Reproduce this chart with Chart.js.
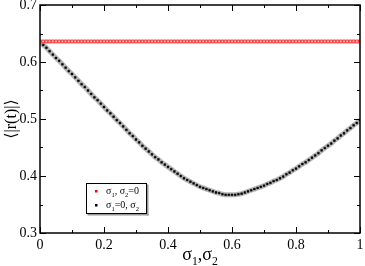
<!DOCTYPE html>
<html>
<head>
<meta charset="utf-8">
<script src="https://cdn.jsdelivr.net/npm/chart.js@4/dist/chart.umd.min.js"></script>
<style>
  html, body { margin: 0; padding: 0; background: #fff; }
  #wrap { width: 365px; height: 266px; }
</style>
</head>
<body>
<div id="wrap"><canvas id="rChart" width="365" height="266"></canvas></div>
<script>
// sigma values (x axis)
const sigma = [
  0.00,0.01,0.02,0.03,0.04,0.05,0.06,0.07,0.08,0.09,
  0.10,0.11,0.12,0.13,0.14,0.15,0.16,0.17,0.18,0.19,
  0.20,0.21,0.22,0.23,0.24,0.25,0.26,0.27,0.28,0.29,
  0.30,0.31,0.32,0.33,0.34,0.35,0.36,0.37,0.38,0.39,
  0.40,0.41,0.42,0.43,0.44,0.45,0.46,0.47,0.48,0.49,
  0.50,0.51,0.52,0.53,0.54,0.55,0.56,0.57,0.58,0.59,
  0.60,0.61,0.62,0.63,0.64,0.65,0.66,0.67,0.68,0.69,
  0.70,0.71,0.72,0.73,0.74,0.75,0.76,0.77,0.78,0.79,
  0.80,0.81,0.82,0.83,0.84,0.85,0.86,0.87,0.88,0.89,
  0.90,0.91,0.92,0.93,0.94,0.95,0.96,0.97,0.98,0.99,
  1.00
];

// <|r(t)|> with sigma1 varied, sigma2 = 0
const rSigma1 = [
  0.636,0.636,0.636,0.636,0.636,0.636,0.636,0.636,0.636,0.636,
  0.636,0.636,0.636,0.636,0.636,0.636,0.636,0.636,0.636,0.636,
  0.636,0.636,0.636,0.636,0.636,0.636,0.636,0.636,0.636,0.636,
  0.636,0.636,0.636,0.636,0.636,0.636,0.636,0.636,0.636,0.636,
  0.636,0.636,0.636,0.636,0.636,0.636,0.636,0.636,0.636,0.636,
  0.636,0.636,0.636,0.636,0.636,0.636,0.636,0.636,0.636,0.636,
  0.636,0.636,0.636,0.636,0.636,0.636,0.636,0.636,0.636,0.636,
  0.636,0.636,0.636,0.636,0.636,0.636,0.636,0.636,0.636,0.636,
  0.636,0.636,0.636,0.636,0.636,0.636,0.636,0.636,0.636,0.636,
  0.636,0.636,0.636,0.636,0.636,0.636,0.636,0.636,0.636,0.636,
  0.636
];

// <|r(t)|> with sigma1 = 0, sigma2 varied
const rSigma2 = [
  0.636,0.630,0.625,0.619,0.613,0.607,0.602,0.596,0.590,0.584,
  0.579,0.573,0.567,0.561,0.556,0.550,0.544,0.538,0.533,0.527,
  0.521,0.515,0.510,0.504,0.498,0.493,0.487,0.481,0.475,0.470,
  0.464,0.459,0.453,0.448,0.443,0.438,0.433,0.429,0.424,0.420,
  0.416,0.412,0.408,0.404,0.400,0.396,0.393,0.390,0.387,0.384,
  0.381,0.379,0.377,0.375,0.373,0.371,0.370,0.368,0.367,0.367,
  0.367,0.367,0.368,0.369,0.371,0.373,0.375,0.377,0.379,0.381,
  0.383,0.386,0.388,0.391,0.393,0.396,0.399,0.403,0.406,0.410,
  0.413,0.417,0.421,0.424,0.428,0.432,0.436,0.440,0.445,0.449,
  0.453,0.457,0.462,0.466,0.471,0.475,0.480,0.484,0.489,0.493,
  0.498
];

const xTicks = [0, 0.2, 0.4, 0.6, 0.8, 1];
const yTicks = [0.3, 0.4, 0.5, 0.6, 0.7];

const serif = "'Liberation Serif', 'DejaVu Serif', serif";

// draw text with subscript parts: [[text, isSub], ...]
function drawRich(ctx, parts, x, y, size, align) {
  ctx.save();
  let total = 0;
  parts.forEach(([t, sub]) => {
    ctx.font = (sub ? size * 0.65 : size) + 'px ' + serif;
    total += ctx.measureText(t).width;
  });
  let cx = align === 'center' ? x - total / 2 : x;
  ctx.textBaseline = 'alphabetic';
  ctx.textAlign = 'left';
  parts.forEach(([t, sub]) => {
    ctx.font = (sub ? size * 0.65 : size) + 'px ' + serif;
    ctx.fillText(t, cx, sub ? y + size * 0.25 : y);
    cx += ctx.measureText(t).width;
  });
  ctx.restore();
}

const framePlugin = {
  id: 'frame',
  afterDraw(chart) {
    const ctx = chart.ctx;
    const ca = chart.chartArea;
    const xs = chart.scales.x, ys = chart.scales.y;
    ctx.save();
    ctx.strokeStyle = '#000';
    ctx.lineWidth = 1.5;
    ctx.strokeRect(ca.left, ca.top, ca.right - ca.left, ca.bottom - ca.top);

    // inward ticks on all four sides
    ctx.lineWidth = 1;
    ctx.beginPath();
    xs.ticks.forEach((t, i) => {
      const px = Math.round(xs.getPixelForValue(t.value)) + 0.5;
      ctx.moveTo(px, ca.bottom); ctx.lineTo(px, ca.bottom - 6);
      ctx.moveTo(px, ca.top); ctx.lineTo(px, ca.top + 6);
      if (i < xs.ticks.length - 1) {
        const mid = (t.value + xs.ticks[i + 1].value) / 2;
        const pm = Math.round(xs.getPixelForValue(mid)) + 0.5;
        ctx.moveTo(pm, ca.bottom); ctx.lineTo(pm, ca.bottom - 3);
        ctx.moveTo(pm, ca.top); ctx.lineTo(pm, ca.top + 3);
      }
    });
    ys.ticks.forEach((t, i) => {
      const py = Math.round(ys.getPixelForValue(t.value)) + 0.5;
      ctx.moveTo(ca.left, py); ctx.lineTo(ca.left + 6, py);
      ctx.moveTo(ca.right, py); ctx.lineTo(ca.right - 6, py);
      if (i < ys.ticks.length - 1) {
        const mid = (t.value + ys.ticks[i + 1].value) / 2;
        const pm = Math.round(ys.getPixelForValue(mid)) + 0.5;
        ctx.moveTo(ca.left, pm); ctx.lineTo(ca.left + 3, pm);
        ctx.moveTo(ca.right, pm); ctx.lineTo(ca.right - 3, pm);
      }
    });
    ctx.stroke();

    // x axis title
    ctx.fillStyle = '#000';
    drawRich(ctx, [['σ', false], ['1', true], [',σ', false], ['2', true]],
      (ca.left + ca.right) / 2, 260, 18, 'center');

    // y axis title
    ctx.save();
    ctx.translate(12, (ca.top + ca.bottom) / 2);
    ctx.rotate(-Math.PI / 2);
    ctx.font = '16px ' + serif;
    ctx.textAlign = 'center';
    ctx.textBaseline = 'middle';
    ctx.fillText('⟨|r(t)|⟩', 0, 0);
    ctx.restore();

    // legend box
    const lx = 86, ly = 183, lw = 61, lh = 31;
    ctx.fillStyle = '#999';
    ctx.fillRect(lx + 1.5, ly + lh, lw, 1.5);
    ctx.fillRect(lx + lw, ly + 1.5, 1.5, lh);
    ctx.fillStyle = '#fff';
    ctx.fillRect(lx, ly, lw, lh);
    ctx.strokeStyle = '#000';
    ctx.lineWidth = 1;
    ctx.strokeRect(lx + 0.5, ly + 0.5, lw - 1, lh - 1);
    ctx.fillStyle = '#ff0000';
    ctx.fillRect(95, 190, 2.5, 2.5);
    ctx.fillStyle = '#000';
    ctx.fillRect(95, 204, 2.5, 2.5);
    drawRich(ctx, [['σ', false], ['1', true], [', σ', false], ['2', true], ['=0', false]],
      106, 194, 10, 'left');
    drawRich(ctx, [['σ', false], ['1', true], ['=0, σ', false], ['2', true]],
      106, 208, 10, 'left');
    ctx.restore();
  }
};

const ctx = document.getElementById('rChart').getContext('2d');
new Chart(ctx, {
  type: 'line',
  data: {
    datasets: [
      {
        label: 'σ1, σ2=0',
        data: sigma.map((s, i) => ({ x: s, y: rSigma1[i] })),
        showLine: false,
        pointStyle: 'rect',
        pointRadius: 2,
        borderWidth: 1,
        pointBorderColor: '#ff2a2a',
        pointBackgroundColor: '#ffd6d6'
      },
      {
        label: 'σ1=0, σ2',
        data: sigma.map((s, i) => ({ x: s, y: rSigma2[i] })),
        showLine: true,
        borderColor: 'rgba(0,0,0,0.28)',
        borderWidth: 5,
        tension: 0,
        pointStyle: 'rect',
        pointRadius: 1.3,
        pointBorderWidth: 0.5,
        pointBorderColor: '#000',
        pointBackgroundColor: '#000'
      }
    ]
  },
  plugins: [framePlugin],
  options: {
    responsive: false,
    animation: false,
    layout: { padding: { top: 5, right: 4, left: 0, bottom: 0 } },
    plugins: { legend: { display: false }, tooltip: { enabled: false } },
    scales: {
      x: {
        type: 'linear',
        min: 0,
        max: 1,
        afterBuildTicks: (s) => { s.ticks = xTicks.map(v => ({ value: v })); },
        afterFit: (s) => { s.height = 33; s.paddingLeft = 0; s.paddingRight = 0; },
        grid: { display: false, drawTicks: false },
        border: { display: false },
        ticks: {
          color: '#000',
          padding: 4,
          maxRotation: 0,
          font: { family: serif, size: 14 },
          callback: (v) => String(v)
        }
      },
      y: {
        min: 0.3,
        max: 0.7,
        afterBuildTicks: (s) => { s.ticks = yTicks.map(v => ({ value: v })); },
        afterFit: (s) => { s.width = 40; s.paddingTop = 0; s.paddingBottom = 0; },
        grid: { display: false, drawTicks: false },
        border: { display: false },
        ticks: {
          color: '#000',
          padding: 3,
          font: { family: serif, size: 14 },
          callback: (v) => v.toFixed(1)
        }
      }
    }
  }
});
</script>
</body>
</html>
